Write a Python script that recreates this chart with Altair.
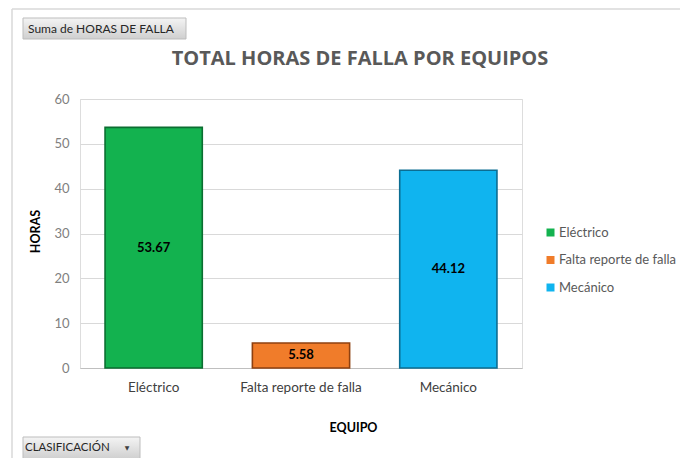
import altair as alt
import pandas as pd

# ---- data ----
equipos = ["Eléctrico", "Falta reporte de falla", "Mecánico"]
horas = [53.67, 5.58, 44.12]
etiquetas = ["53.67", "5.58", "44.12"]
colores = ["#13B24F", "#F07C2A", "#10B4EF"]
bordes = ["#0B6E31", "#8E4010", "#0B6D92"]
y_ticks = [0, 10, 20, 30, 40, 50, 60]
titulo = "TOTAL HORAS DE FALLA POR EQUIPOS"

df = pd.DataFrame({"EQUIPO": equipos, "HORAS": horas, "label": etiquetas})
df["mid"] = df["HORAS"] / 2

FONT = "Lato"

x = alt.X(
    "EQUIPO:N",
    sort=equipos,
    scale=alt.Scale(paddingInner=0.34, paddingOuter=0.17),
    axis=alt.Axis(
        title="EQUIPO", labelAngle=0, labelFont=FONT, labelFontSize=13.5,
        labelColor="#404040", labelPadding=12, ticks=False,
        domainColor="#bfbfbf", titleFont=FONT, titleFontSize=12.5,
        titleFontWeight="bold", titleColor="#000000",
        titleX=273, titleY=59, titleBaseline="middle",
    ),
)
y = alt.Y(
    "HORAS:Q",
    scale=alt.Scale(domain=[0, 60], nice=False),
    axis=alt.Axis(
        values=y_ticks, title="HORAS", grid=True, gridColor="#d9d9d9",
        domain=False, ticks=False, labelPadding=11, labelFont=FONT,
        labelFontSize=13, labelColor="#808080", titleFont=FONT,
        titleFontSize=12.5, titleFontWeight="bold", titleColor="#000000",
        titleX=-45, titleY=132, titleBaseline="middle",
    ),
)

bars = alt.Chart(df).mark_bar(strokeWidth=1.6).encode(
    x=x,
    y=y,
    color=alt.Color(
        "EQUIPO:N",
        scale=alt.Scale(domain=equipos, range=colores),
        legend=alt.Legend(
            title=None, orient="none", legendX=464, legendY=127,
            symbolType="square", symbolSize=64, symbolStrokeWidth=0,
            labelFont=FONT, labelFontSize=13, labelColor="#595959",
            rowPadding=13.5, labelOffset=2, labelLimit=200,
        ),
    ),
    stroke=alt.Stroke("EQUIPO:N", scale=alt.Scale(domain=equipos, range=bordes), legend=None),
)

labels = alt.Chart(df).mark_text(
    font=FONT, fontWeight="bold", fontSize=13, color="#000000", baseline="middle"
).encode(x=alt.X("EQUIPO:N", sort=equipos), y=alt.Y("mid:Q"), text="label:N")

one = pd.DataFrame({"k": [0]})
btn_grad = alt.Gradient(
    gradient="linear",
    stops=[alt.GradientStop(color="#f4f4f4", offset=0), alt.GradientStop(color="#cfcfcf", offset=1)],
    x1=0, x2=0, y1=0, y2=1,
)

title_t = alt.Chart(one).mark_text(
    text=titulo, font="Open Sans", fontSize=20, fontWeight="bold", color="#595959",
    align="center", baseline="middle").encode(x=alt.value(280), y=alt.value(-40))

frame_top = alt.Chart(one).mark_rule(color="#d9d9d9", strokeWidth=1.5).encode(
    x=alt.value(-68), x2=alt.value(610), y=alt.value(-90))
frame_left = alt.Chart(one).mark_rule(color="#d9d9d9", strokeWidth=1.5).encode(
    x=alt.value(-68), y=alt.value(-90), y2=alt.value(367))

btn1 = alt.Chart(one).mark_rect(fill=btn_grad, stroke="#bdbdbd", strokeWidth=1).encode(
    x=alt.value(-57), x2=alt.value(106), y=alt.value(-81), y2=alt.value(-60))
btn1_t = alt.Chart(one).mark_text(
    text="Suma de HORAS DE FALLA", font=FONT, fontSize=12, color="#262626",
    align="left", baseline="middle").encode(x=alt.value(-52), y=alt.value(-70))

btn2 = alt.Chart(one).mark_rect(fill=btn_grad, stroke="#bdbdbd", strokeWidth=1).encode(
    x=alt.value(-57), x2=alt.value(60), y=alt.value(338), y2=alt.value(360))
btn2_t = alt.Chart(one).mark_text(
    text="CLASIFICACIÓN", font=FONT, fontSize=11.5, color="#262626",
    align="left", baseline="middle").encode(x=alt.value(-55), y=alt.value(349))
btn2_a = alt.Chart(one).mark_text(
    text="▼", font="DejaVu Sans", fontSize=6, color="#404040",
    align="center", baseline="middle").encode(x=alt.value(47), y=alt.value(349))

chart = alt.layer(
    frame_top, frame_left, bars, labels, title_t, btn1, btn1_t, btn2, btn2_t, btn2_a
).resolve_scale(
    color="independent", stroke="independent"
).properties(
    width=442,
    height=269,
    padding={"left": 72, "top": 91, "right": 158, "bottom": 90},
    autosize=alt.AutoSizeParams(type="none"),
).configure_view(stroke=None).configure(background="white")

chart.save("out.html", embed_options={"renderer": "svg", "actions": False})
